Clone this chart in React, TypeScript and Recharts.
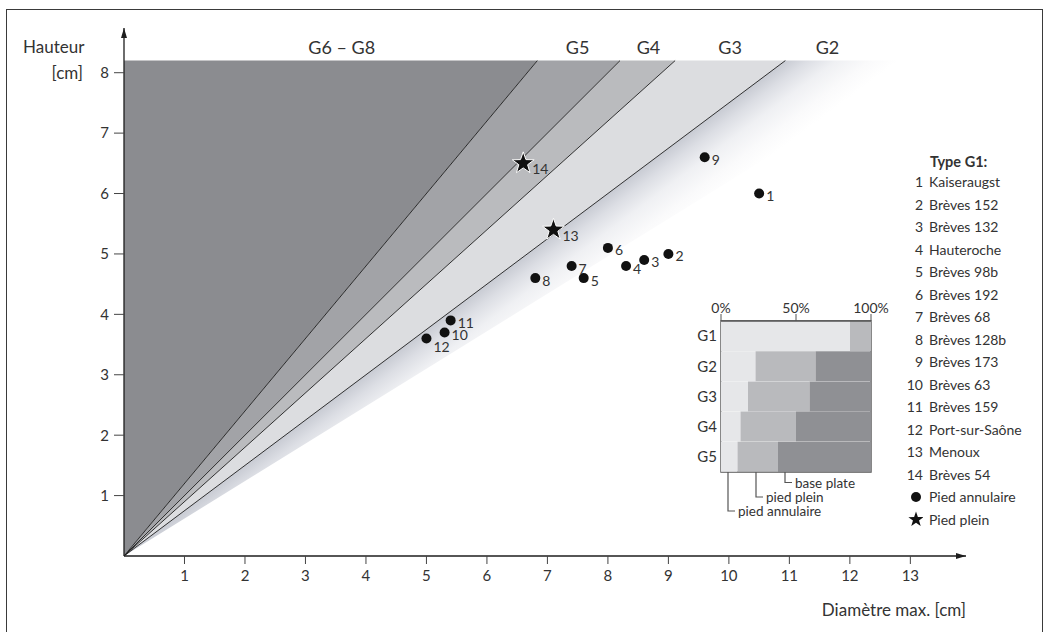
import React from 'react'
import {
  ComposedChart,
  Area,
  Scatter,
  XAxis,
  YAxis,
  ReferenceLine,
  ReferenceDot,
  BarChart,
  Bar,
  ReferenceArea,
} from 'recharts'

const FONT = 'Lato, "Open Sans", sans-serif'
const INK = '#333333'
const WEIGHT = 400

// group boundaries as ratio height / diameter
const groupLabels = ['G6 – G8', 'G5', 'G4', 'G3', 'G2']
const groupLabelAt = [3.6, 7.5, 8.67, 10.02, 11.63]
const boundarySlopes = [1.2, 1.0, 0.9, 0.75]
const fadeSlope = 0.62
const regionTop = 8.2
const regionFills = ['#8b8c90', '#a2a3a7', '#babbbe', '#dcdde0', 'url(#g2fade)']

const xTicks = [1, 2, 3, 4, 5, 6, 7, 8, 9, 10, 11, 12, 13]
const yTicks = [1, 2, 3, 4, 5, 6, 7, 8]

// pied annulaire
const ringFoot = [
  { id: 1, x: 10.5, y: 6.0 },
  { id: 2, x: 9.0, y: 5.0 },
  { id: 3, x: 8.6, y: 4.9 },
  { id: 4, x: 8.3, y: 4.8 },
  { id: 5, x: 7.6, y: 4.6 },
  { id: 6, x: 8.0, y: 5.1 },
  { id: 7, x: 7.4, y: 4.8 },
  { id: 8, x: 6.8, y: 4.6 },
  { id: 9, x: 9.6, y: 6.6 },
  { id: 10, x: 5.3, y: 3.7 },
  { id: 11, x: 5.4, y: 3.9 },
  { id: 12, x: 5.0, y: 3.6 },
]
// pied plein
const solidFoot = [
  { id: 13, x: 7.1, y: 5.4 },
  { id: 14, x: 6.6, y: 6.5 },
]

const siteNames = [
  'Kaiseraugst',
  'Brèves 152',
  'Brèves 132',
  'Hauteroche',
  'Brèves 98b',
  'Brèves 192',
  'Brèves 68',
  'Brèves 128b',
  'Brèves 173',
  'Brèves 63',
  'Brèves 159',
  'Port-sur-Saône',
  'Menoux',
  'Brèves 54',
]

const insetGroups = ['G1', 'G2', 'G3', 'G4', 'G5']
const insetAnnulaire = [86, 23, 18, 13, 11]
const insetPlein = [14, 40, 41, 37, 27]
const insetBase = [0, 37, 41, 50, 62]
const insetTicks = [0, 50, 100]

// label nudges (px, downwards)
const labelDrop: Record<number, number> = { 12: 6 }

const edgeSlopes = [...boundarySlopes, fadeSlope]
const regionRows = [0, ...edgeSlopes.map((s) => regionTop / s)].map((x) => {
  const row: Record<string, number> = { x }
  edgeSlopes.forEach((s, i) => {
    row['e' + i] = Math.min(s * x, regionTop)
  })
  return row
})
const regionKey = (i: number) => (r: Record<string, number>) =>
  i === 0 ? [r.e0, regionTop] : [r['e' + i], r['e' + (i - 1)]]

const insetRows = insetGroups.map((name, i) => ({
  name,
  annulaire: insetAnnulaire[i],
  plein: insetPlein[i],
  base: insetBase[i],
}))

function starPath(cx: number, cy: number, R: number, r: number) {
  let d = ''
  for (let k = 0; k < 10; k++) {
    const rad = k % 2 === 0 ? R : r
    const a = -Math.PI / 2 + (k * Math.PI) / 5
    d += (k === 0 ? 'M' : 'L') + (cx + rad * Math.cos(a)).toFixed(2) + ',' + (cy + rad * Math.sin(a)).toFixed(2)
  }
  return d + 'Z'
}

const RingDot = (props: any) => {
  const { cx, cy } = props
  const id = props.payload?.id ?? props.id
  return (
    <g>
      <circle cx={cx} cy={cy} r={5} fill="#111" />
      <text
        x={cx + 7}
        y={cy + 2 + (labelDrop[id] || 0)}
        dominantBaseline="central"
        fontSize={14}
        fontFamily={FONT}
        fontWeight={WEIGHT}
        fill={INK}
      >
        {id}
      </text>
    </g>
  )
}

const StarDot = (props: any) => {
  const { cx, cy } = props
  const id = props.payload?.id ?? props.id
  return (
    <g>
      <path d={starPath(cx, cy, 11.5, 4.6)} fill="#111" stroke="#fff" strokeWidth={1} />
      <text
        x={cx + 9}
        y={cy + 5.5}
        dominantBaseline="central"
        fontSize={14}
        fontFamily={FONT}
        fontWeight={WEIGHT}
        fill={INK}
      >
        {id}
      </text>
    </g>
  )
}

function MainChart() {
  const tick = { fill: INK, fontSize: 15, fontFamily: FONT, fontWeight: WEIGHT }
  return (
    <ComposedChart width={1046} height={632} data={regionRows} margin={{ top: 28, right: 80, bottom: 0, left: 0 }}>
      <defs>
        <linearGradient id="g2fade" x1="0.413" y1="0.5" x2="0.497" y2="0.5695">
          <stop offset="0" stopColor="#c8cbd3" />
          <stop offset="0.2" stopColor="#dcdee4" />
          <stop offset="0.45" stopColor="#eff0f3" />
          <stop offset="0.75" stopColor="#fafafb" />
          <stop offset="1" stopColor="#ffffff" />
        </linearGradient>
        <marker
          id="axisArrow"
          viewBox="0 0 10 10"
          refX="10"
          refY="5"
          markerWidth="10"
          markerHeight="6"
          markerUnits="userSpaceOnUse"
          preserveAspectRatio="none"
          orient="auto-start-reverse"
        >
          <path d="M0,0 L10,5 L0,10 Z" fill="#1e1e1e" />
        </marker>
      </defs>
      <XAxis
        type="number"
        dataKey="x"
        domain={[0, 13.92]}
        ticks={xTicks}
        allowDataOverflow
        height={76}
        tick={tick}
        tickSize={8}
        tickMargin={6}
        tickLine={{ stroke: '#444' }}
        axisLine={{ stroke: '#1e1e1e', strokeWidth: 1.3, markerEnd: 'url(#axisArrow)' }}
      />
      <YAxis
        type="number"
        domain={[0, 8.74]}
        ticks={yTicks}
        allowDataOverflow
        width={124}
        tick={tick}
        tickSize={10}
        tickMargin={5}
        tickLine={{ stroke: '#444' }}
        axisLine={{ stroke: '#1e1e1e', strokeWidth: 1.3, markerStart: 'url(#axisArrow)' }}
      />
      {regionFills.map((fill, i) => (
        <Area
          key={i}
          type="linear"
          dataKey={regionKey(i)}
          fill={fill}
          fillOpacity={1}
          stroke="none"
          dot={false}
          activeDot={false}
          isAnimationActive={false}
        />
      ))}
      {boundarySlopes.map((s, i) => (
        <ReferenceLine
          key={i}
          segment={[
            { x: 0, y: 0 },
            { x: regionTop / s, y: regionTop },
          ]}
          stroke="#1c1c1c"
          strokeWidth={0.9}
          ifOverflow="visible"
        />
      ))}
      {groupLabels.map((name, i) => (
        <ReferenceDot
          key={name}
          x={groupLabelAt[i]}
          y={8.42}
          r={1}
          fillOpacity={0}
          stroke="none"
          ifOverflow="visible"
          label={{ value: name, position: 'center', fill: INK, fontSize: 18, fontFamily: FONT, fontWeight: WEIGHT }}
        />
      ))}
      <Scatter data={ringFoot} dataKey="y" shape={RingDot} isAnimationActive={false} />
      <Scatter data={solidFoot} dataKey="y" shape={StarDot} isAnimationActive={false} />
    </ComposedChart>
  )
}

function InsetChart() {
  const tick = { fill: INK, fontSize: 14, fontFamily: FONT, fontWeight: WEIGHT }
  return (
    <BarChart
      width={220}
      height={192}
      data={insetRows}
      layout="vertical"
      barCategoryGap={0}
      margin={{ top: 11, right: 29, bottom: 10, left: 10 }}
    >
      <XAxis
        type="number"
        orientation="top"
        domain={[0, 100]}
        ticks={insetTicks}
        tickFormatter={(v) => v + '%'}
        height={20}
        tick={tick}
        tickSize={7}
        tickMargin={1}
        tickLine={{ stroke: '#555' }}
        axisLine={{ stroke: '#555', strokeWidth: 1.4 }}
        interval={0}
      />
      <YAxis
        type="category"
        dataKey="name"
        width={31}
        tick={{ ...tick, fontSize: 15 }}
        tickSize={0}
        tickMargin={4}
        tickLine={false}
        axisLine={false}
      />
      <Bar dataKey="annulaire" stackId="a" fill="#e6e7e9" isAnimationActive={false} />
      <Bar dataKey="plein" stackId="a" fill="#b9babd" isAnimationActive={false} />
      <Bar dataKey="base" stackId="a" fill="#8f9094" isAnimationActive={false} />
      <ReferenceArea x1={0} x2={100} fill="none" fillOpacity={0} stroke="#555" strokeWidth={1.4} />
    </BarChart>
  )
}

export default function App() {
  const text = {
    position: 'absolute' as const,
    fontFamily: FONT,
    fontWeight: WEIGHT,
    color: INK,
    whiteSpace: 'nowrap' as const,
  }
  const leaders = [
    { label: 'base plate', x: 785, y: 482.5 },
    { label: 'pied plein', x: 756, y: 497 },
    { label: 'pied annulaire', x: 728, y: 511 },
  ]
  return (
    <div
      style={{
        position: 'fixed',
        left: 0,
        top: 0,
        width: 1046,
        height: 632,
        overflow: 'hidden',
        background: '#fff',
        fontFamily: FONT,
      }}
    >
      <div
        style={{
          position: 'absolute',
          left: 6,
          top: 9,
          width: 1037,
          height: 640,
          border: '1.5px solid #3a3a3a',
          boxSizing: 'border-box',
        }}
      />
      <div style={{ position: 'absolute', left: 0, top: 0 }}>
        <MainChart />
      </div>
      <div style={{ position: 'absolute', left: 680, top: 290 }}>
        <InsetChart />
      </div>
      <svg width={1046} height={632} style={{ position: 'absolute', left: 0, top: 0, pointerEvents: 'none' }}>
        {leaders.map((l) => (
          <g key={l.label}>
            <path d={`M${l.x},472 V${l.y} H${l.x + 7}`} fill="none" stroke="#555" strokeWidth={1.2} />
            <text
              x={l.x + 10}
              y={l.y}
              dominantBaseline="central"
              fontSize={13.5}
              fontFamily={FONT}
              fontWeight={WEIGHT}
              fill={INK}
            >
              {l.label}
            </text>
          </g>
        ))}
      </svg>

      <div style={{ ...text, left: 23, top: 37, fontSize: 17, lineHeight: '20px' }}>Hauteur</div>
      <div style={{ ...text, left: 0, width: 83, textAlign: 'right', top: 63, fontSize: 17, lineHeight: '20px' }}>
        [cm]
      </div>
      <div style={{ ...text, left: 700, width: 266, textAlign: 'right', top: 600, fontSize: 17, lineHeight: '20px' }}>
        Diamètre max. [cm]
      </div>

      <div style={{ ...text, left: 930, top: 151, fontSize: 14.5, fontWeight: 700, lineHeight: '22px' }}>Type G1:</div>
      {siteNames.map((name, i) => (
        <div
          key={name}
          style={{
            ...text,
            left: 890,
            top: 170.5 + i * 22.5,
            height: 22.5,
            display: 'flex',
            alignItems: 'center',
            fontSize: 14,
          }}
        >
          <span style={{ width: 33, textAlign: 'right' }}>{i + 1}</span>
          <span style={{ marginLeft: 6 }}>{name}</span>
        </div>
      ))}
      {['Pied annulaire', 'Pied plein'].map((name, i) => (
        <div
          key={name}
          style={{
            ...text,
            left: 890,
            top: 170.5 + (siteNames.length + i) * 22.5,
            height: 22.5,
            display: 'flex',
            alignItems: 'center',
            fontSize: 14,
          }}
        >
          <span style={{ width: 33, display: 'flex', justifyContent: 'flex-end' }}>
            <svg width={16} height={16}>
              {i === 0 ? (
                <circle cx={9} cy={8} r={5} fill="#111" />
              ) : (
                <path d={starPath(9, 8.6, 8, 3.2)} fill="#111" />
              )}
            </svg>
          </span>
          <span style={{ marginLeft: 6 }}>{name}</span>
        </div>
      ))}
    </div>
  )
}
